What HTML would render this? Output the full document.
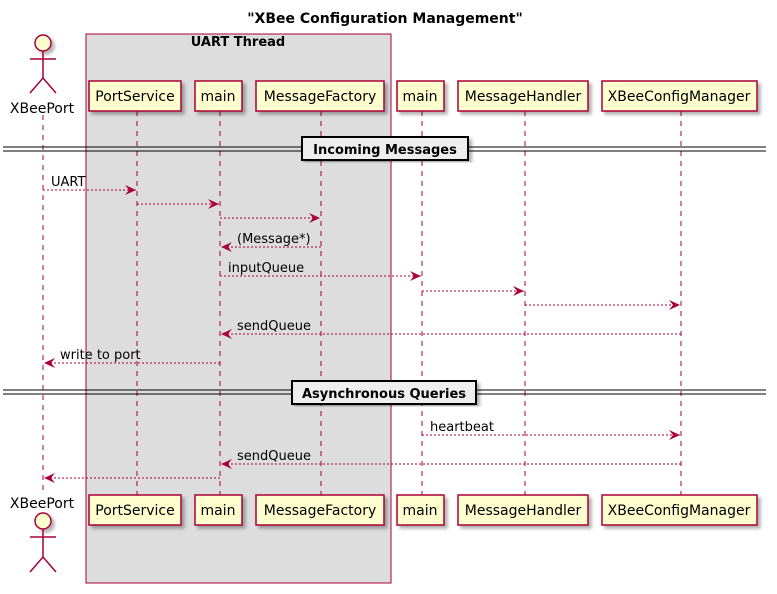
<!DOCTYPE html>
<html><head><meta charset="utf-8"><style>body{margin:0;background:#fff}svg{display:block}text{font-family:"DejaVu Sans","Liberation Sans",sans-serif}</style></head>
<body>
<svg width="777" height="594" viewBox="0 0 777 594" xmlns="http://www.w3.org/2000/svg">
<defs>
<marker id="a" markerWidth="12" markerHeight="10" refX="11" refY="5" orient="auto" markerUnits="userSpaceOnUse"><path d="M0,0 L11,5 L0,10 L4,5 Z" fill="#A80036"/></marker>
<filter id="s"><feDropShadow dx="3" dy="3" stdDeviation="1.5" flood-color="#000" flood-opacity="0.3"/></filter>
</defs>
<text x="385" y="23" font-size="14" font-weight="bold" text-anchor="middle">"XBee Configuration Management"</text>
<rect x="86" y="34" width="305" height="549" fill="#DDDDDD" stroke="#A80036" stroke-width="1"/>
<text x="238" y="46" font-size="13" font-weight="bold" text-anchor="middle">UART Thread</text>
<g stroke="#A80036" stroke-dasharray="5,5" stroke-width="1">
<line x1="43" y1="115" x2="43" y2="495"/><line x1="137" y1="111" x2="137" y2="495"/><line x1="220" y1="111" x2="220" y2="495"/><line x1="321" y1="111" x2="321" y2="495"/><line x1="422" y1="111" x2="422" y2="495"/><line x1="525" y1="111" x2="525" y2="495"/><line x1="681" y1="111" x2="681" y2="495"/>
</g>
<g fill="#FEFECE" stroke="#A80036" stroke-width="1.5" filter="url(#s)">
<rect x="89" y="81" width="92" height="30"/><rect x="195" y="81" width="47" height="30"/><rect x="256" y="81" width="128" height="30"/><rect x="397" y="81" width="47" height="30"/><rect x="458" y="81" width="130" height="30"/><rect x="602" y="81" width="155" height="30"/>
<rect x="89" y="495" width="92" height="30"/><rect x="195" y="495" width="47" height="30"/><rect x="256" y="495" width="128" height="30"/><rect x="397" y="495" width="47" height="30"/><rect x="458" y="495" width="130" height="30"/><rect x="602" y="495" width="155" height="30"/>
<circle cx="43" cy="43" r="8"/><circle cx="43" cy="521" r="8"/>
</g>
<g stroke="#A80036" stroke-width="1.5" fill="none">
<path d="M43,51 V78 M30,59 H56 M30,93 L43,78 L56,93"/>
<path d="M43,529 V557 M30,537 H56 M30,572 L43,557 L56,572"/>
</g>
<g font-size="14" text-anchor="middle">
<text x="42" y="113">XBeePort</text><text x="42" y="508">XBeePort</text>
<text x="135" y="101">PortService</text><text x="218" y="101">main</text><text x="320" y="101">MessageFactory</text><text x="420" y="101">main</text><text x="523" y="101">MessageHandler</text><text x="679" y="101">XBeeConfigManager</text>
<text x="135" y="515">PortService</text><text x="218" y="515">main</text><text x="320" y="515">MessageFactory</text><text x="420" y="515">main</text><text x="523" y="515">MessageHandler</text><text x="679" y="515">XBeeConfigManager</text>
</g>
<g stroke="#000" stroke-width="1"><line x1="3" y1="147" x2="766" y2="147"/><line x1="3" y1="151" x2="766" y2="151"/><line x1="3" y1="390" x2="766" y2="390"/><line x1="3" y1="394" x2="766" y2="394"/></g>
<rect x="302" y="137" width="166" height="23" fill="#EEEEEE" stroke="#000" stroke-width="2" filter="url(#s)"/>
<text x="385" y="154" font-size="13" font-weight="bold" text-anchor="middle">Incoming Messages</text>
<rect x="292" y="381" width="184" height="23" fill="#EEEEEE" stroke="#000" stroke-width="2" filter="url(#s)"/>
<text x="384" y="398" font-size="13" font-weight="bold" text-anchor="middle">Asynchronous Queries</text>
<g stroke="#A80036" stroke-dasharray="2,2" stroke-width="1" marker-end="url(#a)">
<line x1="43" y1="190" x2="136" y2="190"/><line x1="137" y1="204" x2="219" y2="204"/><line x1="220" y1="218" x2="320" y2="218"/><line x1="321" y1="247" x2="221" y2="247"/><line x1="220" y1="276" x2="421" y2="276"/><line x1="422" y1="291" x2="524" y2="291"/><line x1="525" y1="305" x2="680" y2="305"/><line x1="681" y1="334" x2="221" y2="334"/><line x1="220" y1="363" x2="44" y2="363"/><line x1="422" y1="435" x2="680" y2="435"/><line x1="681" y1="464" x2="221" y2="464"/><line x1="220" y1="478" x2="44" y2="478"/>
</g>
<g font-size="13">
<text x="51" y="186">UART</text><text x="237" y="243">(Message*)</text><text x="228" y="272">inputQueue</text><text x="237" y="330">sendQueue</text><text x="60" y="359">write to port</text><text x="430" y="431">heartbeat</text><text x="237" y="460">sendQueue</text>
</g>
</svg>
</body></html>
